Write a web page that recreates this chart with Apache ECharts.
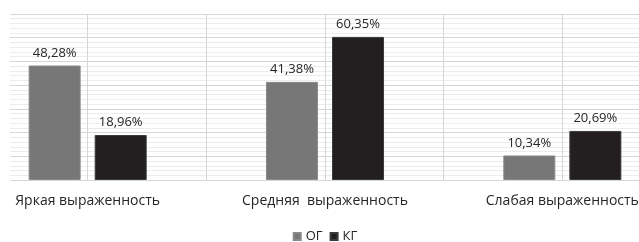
<!DOCTYPE html>
<html>
<head>
<meta charset="utf-8">
<script src="https://cdn.jsdelivr.net/npm/echarts@6/dist/echarts.min.js"></script>
<style>
  html, body { margin: 0; padding: 0; background: #fff; overflow: hidden; }
  #wrap { position: relative; width: 639px; height: 242px; overflow: hidden; }
  /* график шире окна: крайние категории обрезаны, как на исходном рисунке */
  #chart { position: absolute; left: -31px; top: 0; width: 712px; height: 242px; }
</style>
</head>
<body>
<div id="wrap"><div id="chart"></div></div>
<script>
// категории и значения (%)
const categories = ['Яркая выраженность', 'Средняя  выраженность', 'Слабая выраженность'];
const ogValues = [48.28, 41.38, 10.34];
const kgValues = [18.96, 60.35, 20.69];
const seriesNames = ['ОГ', 'КГ'];

const font = 'Open Sans';
const textColor = '#262626';
const chart = echarts.init(document.getElementById('chart'));

const labelOpt = {
    show: true,
    position: 'top',
    distance: 6,
    fontFamily: font,
    fontSize: 13,
    color: textColor,
    formatter: p => p.value.toFixed(2).replace('.', ',') + '%'
};

const hidden = {
    axisLine: { show: false },
    axisTick: { show: false },
    axisLabel: { show: false },
    splitLine: { show: false }
};

const option = {
    animation: false,
    backgroundColor: '#fff',
    grid: [
        // фон с горизонтальной сеткой
        { left: 41, right: 31, top: 14, bottom: 62 },
        // столбцы
        { left: 0, right: 0, top: 14, bottom: 62 }
    ],
    legend: {
        top: 225,
        left: 'center',
        icon: 'rect',
        itemWidth: 7,
        itemHeight: 7,
        itemGap: 7,
        textStyle: { fontFamily: font, fontSize: 13, color: textColor },
        data: seriesNames
    },
    xAxis: [
        Object.assign({ type: 'category', gridIndex: 0, data: categories }, hidden),
        {
            type: 'category',
            gridIndex: 1,
            data: categories,
            axisLine: { show: false },
            axisTick: { show: false },
            splitLine: { show: false },
            axisLabel: { fontFamily: font, fontSize: 14, color: textColor, margin: 14 }
        },
        {
            type: 'value',
            gridIndex: 1,
            min: 0,
            max: 6,
            interval: 1,
            axisLine: { show: false },
            axisTick: { show: false },
            axisLabel: { show: false },
            splitLine: { show: true, lineStyle: { color: '#d6d6d6', width: 1 } }
        }
    ],
    yAxis: [
        {
            type: 'value',
            gridIndex: 0,
            min: 0,
            max: 70,
            interval: 10,
            axisLine: { show: false },
            axisTick: { show: false },
            axisLabel: { show: false },
            splitLine: { lineStyle: { color: '#d6d6d6', width: 1 } },
            minorTick: { show: false, splitNumber: 5 },
            minorSplitLine: { show: true, lineStyle: { color: '#ececec', width: 1 } }
        },
        Object.assign({ type: 'value', gridIndex: 1, min: 0, max: 70 }, hidden)
    ],
    series: [
        {
            name: seriesNames[0],
            type: 'bar',
            xAxisIndex: 1,
            yAxisIndex: 1,
            data: ogValues,
            barWidth: 52,
            barGap: '27%',
            itemStyle: { color: '#777777', borderColor: '#8a8a8a', borderWidth: 1 },
            label: labelOpt
        },
        {
            name: seriesNames[1],
            type: 'bar',
            xAxisIndex: 1,
            yAxisIndex: 1,
            data: kgValues,
            barWidth: 52,
            barGap: '27%',
            itemStyle: { color: '#231f20', borderColor: '#3a3a3a', borderWidth: 1 },
            label: labelOpt
        }
    ]
};

chart.setOption(option);
</script>
</body>
</html>
